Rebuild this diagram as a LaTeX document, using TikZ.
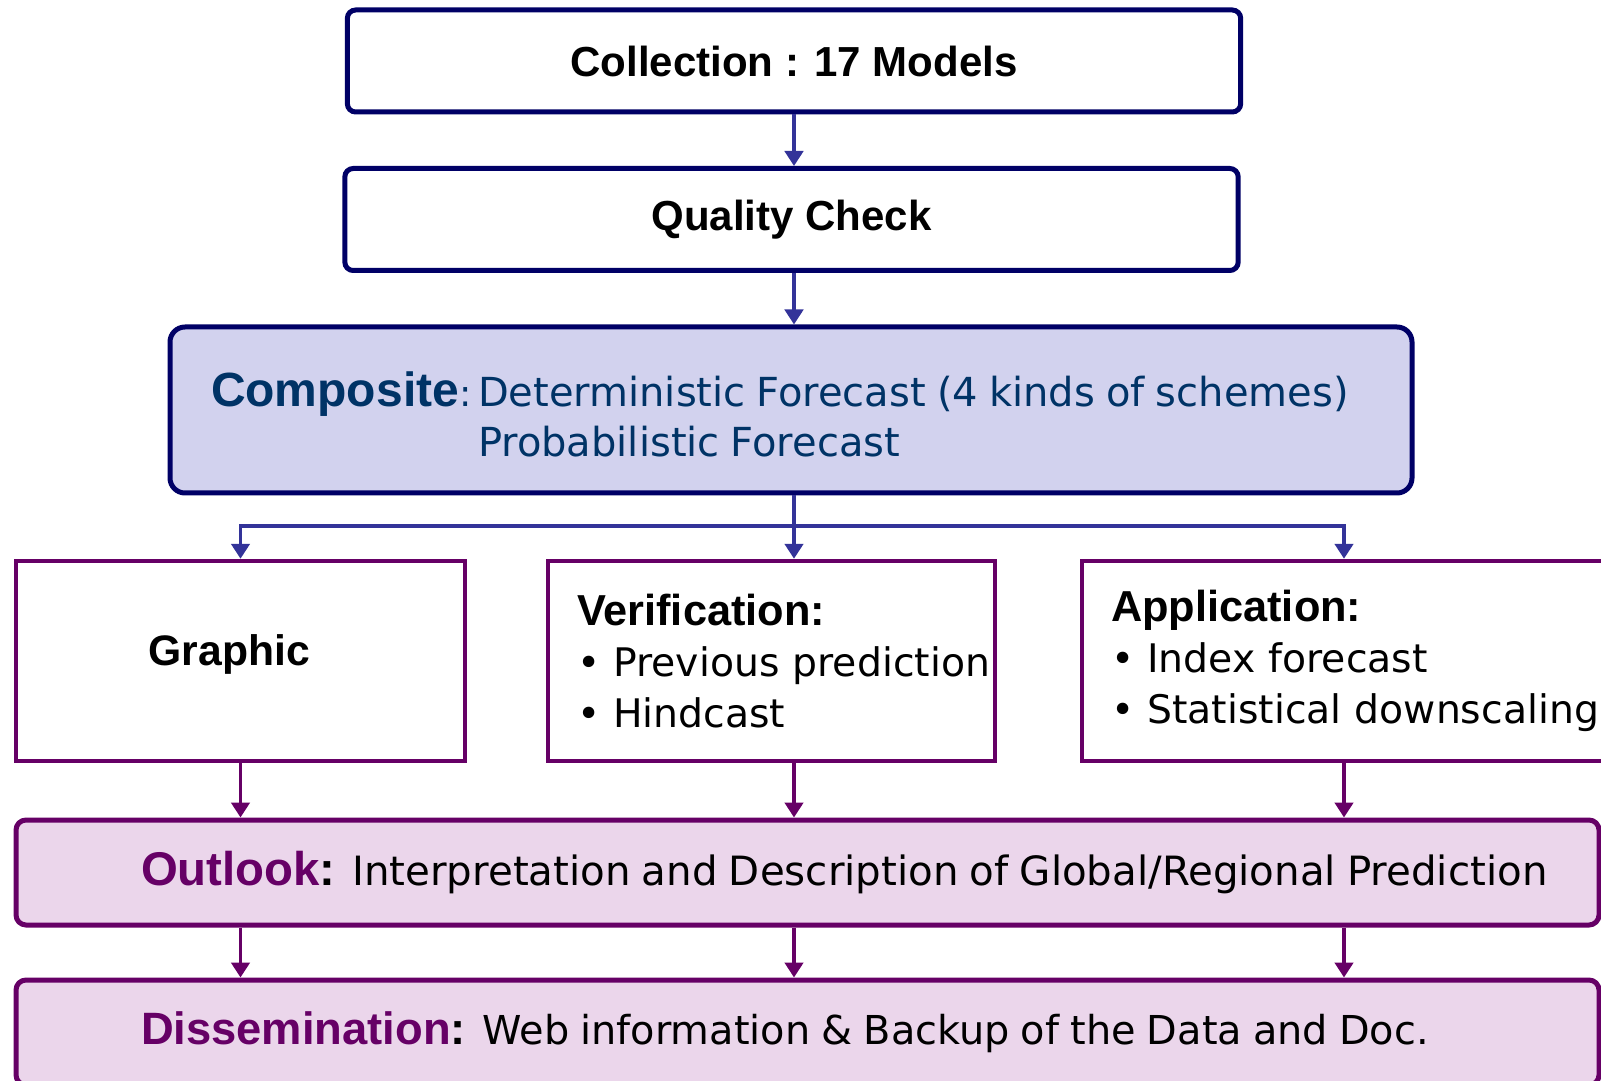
\documentclass[tikz,border=0pt]{standalone}
\usepackage{fontspec}
\setmainfont{Liberation Sans}
\newfontfamily\comic{DejaVu Sans}
\usetikzlibrary{arrows.meta}

\definecolor{navy}{HTML}{000066}
\definecolor{flowblue}{HTML}{333399}
\definecolor{plum}{HTML}{660066}
\definecolor{compfill}{HTML}{D2D2EE}
\definecolor{compink}{HTML}{003366}
\definecolor{outfill}{HTML}{EBD6EB}

\begin{document}
\begin{tikzpicture}[x=0.3pt, y=-0.3pt,
    topbox/.style={draw=navy, line width=1.5pt, rounded corners=2.5pt, fill=white,
        minimum width=268pt, minimum height=30.6pt, font=\bfseries\fontsize{12.6}{15}\selectfont},
    midbox/.style={draw=plum, line width=1.35pt, fill=white,
        minimum height=60pt, inner xsep=8.7pt, font=\fontsize{11.8}{15.3}\selectfont},
    lowbox/.style={draw=plum, line width=1.5pt, rounded corners=3pt, fill=outfill,
        minimum width=474.9pt, minimum height=31.5pt, inner xsep=37.5pt,
        text width=399.9pt, align=left},
    flowb/.style={draw=flowblue, line width=1.1pt, -{Triangle[length=4.5pt, width=5.5pt]}},
    flowp/.style={draw=plum, line width=1.1pt, -{Triangle[length=4.5pt, width=5.5pt]}}]

    \useasboundingbox (0,0) rectangle (1601,1081);

    \node[topbox] (coll) at (794,61) {Collection : 17 Models};
    \node[topbox] (qual) at (791.5,219.5) {Quality Check};

    \node[draw=navy, line width=1.5pt, rounded corners=4.5pt, fill=compfill,
        minimum width=372.6pt, minimum height=49.8pt, inner xsep=12.3pt,
        text width=348pt, align=left, text=compink]
        (comp) at (791,410)
        {\raisebox{-3pt}[\height][\depth]{\begin{tabular}{@{}l@{}l@{}}
        {\bfseries\fontsize{14.4}{15}\selectfont Composite}{\comic\fontsize{11}{15}\selectfont:\hspace{2pt}} &
        {\comic\fontsize{12}{15}\selectfont Deterministic Forecast (4 kinds of schemes)}\\[2.1pt]
         & {\comic\fontsize{12}{15}\selectfont Probabilistic Forecast}
        \end{tabular}}};

    \node[midbox, minimum width=134.7pt, font=\bfseries\fontsize{12.8}{15}\selectfont]
        (graph) at (240.5,661) {\raisebox{2pt}[\height][\depth]{Graphic\hspace{6.7pt}}};
    \node[midbox, minimum width=134.1pt, text width=116.7pt, align=left]
        (verif) at (771.5,661)
        {\mbox{\bfseries\fontsize{13}{15}\selectfont Verification:}\\
         \mbox{\comic • Previous prediction}\\ \mbox{\comic • Hindcast}};
    \node[midbox, minimum width=157.2pt, text width=139.8pt, align=left]
        (appl) at (1344,661)
        {\mbox{\bfseries\fontsize{13}{15}\selectfont Application:}\\
         \mbox{\comic • Index forecast}\\ \mbox{\comic • Statistical downscaling}};

    \node[lowbox] (outl) at (807.5,872.5)
        {\mbox{\fontsize{14.2}{15}\selectfont\textcolor{plum}{\textbf{Outlook}}\textbf{:}
         \comic\fontsize{12.1}{15}\selectfont Interpretation and Description of Global/Regional Prediction}};
    \node[lowbox] (diss) at (807.5,1032.5)
        {\mbox{\fontsize{13.6}{15}\selectfont\textcolor{plum}{\textbf{Dissemination}}\textbf{:}
         \comic\fontsize{11.95}{15}\selectfont Web information \& Backup of the Data and Doc.}};

    % top chain
    \coordinate (split) at (794,526);
    \draw[flowb] (coll.south) -- (coll.south |- qual.north);
    \draw[flowb] (qual.south -| split) -- (comp.north -| split);

    % branch to the three boxes
    \draw[flowb] (comp.south -| split) -- (verif.north -| split);
    \draw[flowb] (split) -| (graph.north);
    \draw[flowb] (split) -| (appl.north);

    % down to outlook and dissemination
    \foreach \b in {graph, appl} {
        \draw[flowp] (\b.south) -- (\b.south |- outl.north);
        \draw[flowp] (\b.south |- outl.south) -- (\b.south |- diss.north);
    }
    \draw[flowp] (verif.south -| split) -- (outl.north -| split);
    \draw[flowp] (outl.south -| split) -- (diss.north -| split);

\end{tikzpicture}
\end{document}
